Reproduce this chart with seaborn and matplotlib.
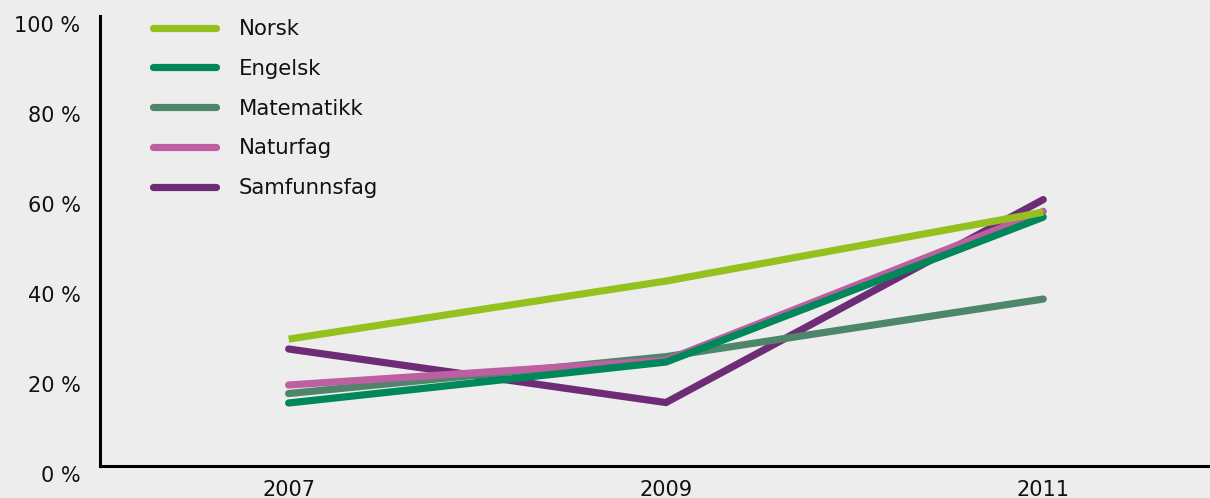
import matplotlib
matplotlib.use("Agg")
import matplotlib.pyplot as plt
import matplotlib.transforms as mtransforms
from matplotlib.lines import Line2D
import seaborn as sns
import pandas as pd

years = ["2007", "2009", "2011"]
subjects = ["Norsk", "Engelsk", "Matematikk", "Naturfag", "Samfunnsfag"]
norsk = [28.2, 41.1, 56.4]
engelsk = [14.0, 23.1, 55.3]
matematikk = [16.1, 24.3, 37.1]
naturfag = [18.0, 23.5, 56.6]
samfunnsfag = [26.0, 14.1, 59.2]
colors = ["#95c11f", "#00875a", "#4e866c", "#bd5fa0", "#6e2c77"]
yticks = [0, 20, 40, 60, 80, 100]
ytick_labels = ["0 %", "20 %", "40 %", "60 %", "80 %", "100 %"]

series = [norsk, engelsk, matematikk, naturfag, samfunnsfag]
df = pd.DataFrame(
    [(y, s, v) for s, vals in zip(subjects, series) for y, v in zip(years, vals)],
    columns=["år", "fag", "andel"],
)

sns.set_theme(style="white")
plt.rcParams["font.family"] = ["DejaVu Sans"]
bg = "#ededed"

fig = plt.figure(figsize=(12.1, 4.98), dpi=100, facecolor=bg)
ax = fig.add_axes([100 / 1210, 32 / 498, 1110 / 1210, 450 / 498])
ax.set_facecolor(bg)

sns.lineplot(data=df, x="år", y="andel", hue="fag", hue_order=subjects,
             palette=colors, linewidth=5.2, legend=False, ax=ax, sort=False)

# stacking and line ends
zorders = {"Norsk": 7, "Engelsk": 6, "Matematikk": 4, "Naturfag": 5, "Samfunnsfag": 3}
for line, name in zip(ax.lines, subjects):
    line.set_zorder(zorders[name])
    line.set_solid_capstyle("butt" if name == "Norsk" else "round")
    line.set_solid_joinstyle("miter")

ax.set_xlim(-0.5, 2.442)
ax.set_ylim(0, 100)
ax.set_yticks(yticks)
ax.set_yticklabels(ytick_labels)
ax.set_xlabel("")
ax.set_ylabel("")
ax.tick_params(axis="both", length=0, labelsize=15, colors="#111111")
ax.tick_params(axis="y", pad=14)
ax.tick_params(axis="x", pad=10)

offset = mtransforms.ScaledTranslation(0, -8 / 100, fig.dpi_scale_trans)
for lab in ax.get_yticklabels():
    lab.set_transform(lab.get_transform() + offset)

for side in ["top", "right"]:
    ax.spines[side].set_visible(False)
for side in ["left", "bottom"]:
    ax.spines[side].set_color("black")
    ax.spines[side].set_linewidth(2.2)

handles = [Line2D([0], [0], color=c, linewidth=5.2, solid_capstyle="round")
           for c in colors]
leg = ax.legend(handles, subjects, loc="upper left",
                bbox_to_anchor=(53 / 1110, 1.0 - 3 / 450),
                frameon=False, fontsize=15.3, handlelength=2.95,
                handletextpad=1.08, labelspacing=0.93, borderaxespad=0,
                borderpad=0)
for t in leg.get_texts():
    t.set_color("#111111")

fig.savefig("out.png", dpi=100, facecolor=bg)
